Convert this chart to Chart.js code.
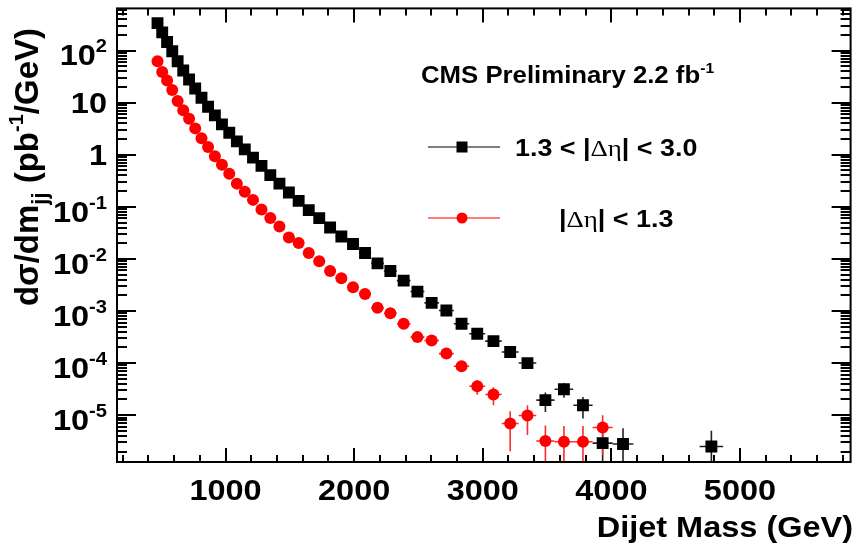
<!DOCTYPE html>
<html><head><meta charset="utf-8">
<script src="https://cdn.jsdelivr.net/npm/chart.js@4.4.0/dist/chart.umd.min.js"></script>
<style>html,body{margin:0;padding:0;background:#fff;}#wrap{width:859px;height:549px;}</style>
</head><body><div id="wrap"><canvas id="c" width="859" height="549"></canvas></div>
<script>
// ---------------- data ----------------
const massBlack = [471,507.5,545.5,585.5,627.5,671,716.5,764,813,864,917,972,1029,1088,1149.5,1213.5,1279.5,1348,1419,1492.5,1568.5,1647,1728.5,1813,1900.5,1991,2084.5,2181.5,2281.5,2385,2492,2602.5,2717,2835,2957,3083,3213,3347.5,3487,3631,3779,3932,4090.5,4777.5];
const halfWidthBlack = [18,18.5,19.5,20.5,21.5,22,23.5,24,25,26,27,28,29,30,31.5,32.5,33.5,35,36,37.5,38.5,40,41.5,43,44.5,46,47.5,49.5,50.5,53,54,56.5,58,60,62,64,66,68.5,71,73,75,78,80.5,91.5];
const valBlack = [337,224,146,97,62.4,41.4,27.9,18.7,12.4,8.33,5.70,3.83,2.65,1.81,1.27,0.879,0.610,0.407,0.279,0.188,0.130,0.0865,0.0608,0.0402,0.0270,0.0193,0.0130,0.00822,0.00587,0.00383,0.00236,0.00143,0.00102,0.000568,0.000366,0.000264,0.000163,0.000100,1.94e-5,3.14e-5,1.55e-5,2.9e-6,2.8e-6,2.5e-6];
const errBlack = [0,0,0,0,0,0,0,0,0,0,0,0,0,0,0,0,0,0,0,0,0,0,0,0,0,0,0,0,0,0,0,0,6.4e-5,4.7e-5,3.7e-5,3.1e-5,2.4e-5,1.8e-5,7.9e-6,9.9e-6,6.9e-6,2.9e-6,2.8e-6,2.5e-6];

const massRed = [471,507.5,545.5,585.5,627.5,671,716.5,764,813,864,917,972,1029,1088,1149.5,1213.5,1279.5,1348,1419,1492.5,1568.5,1647,1728.5,1813,1900.5,1991,2084.5,2181.5,2281.5,2385,2492,2602.5,2717,2835,2957,3083,3213,3347.5,3487,3631,3779,3932];
const halfWidthRed = [18,18.5,19.5,20.5,21.5,22,23.5,24,25,26,27,28,29,30,31.5,32.5,33.5,35,36,37.5,38.5,40,41.5,43,44.5,46,47.5,49.5,50.5,53,54,56.5,58,60,62,64,66,68.5,71,73,75,78];
const valRed = [62.4,38.9,26.6,17.6,10.8,7.19,4.91,3.21,2.07,1.41,0.935,0.646,0.434,0.279,0.194,0.136,0.0889,0.0608,0.0420,0.0259,0.0202,0.0130,0.00898,0.00588,0.00425,0.00286,0.00213,0.00115,0.000907,0.000569,0.000315,0.000272,0.000152,8.67e-5,3.59e-5,2.49e-5,6.93e-6,9.86e-6,3.18e-6,3.08e-6,3.08e-6,5.81e-6];
const errRed = [0,0,0,0,0,0,0,0,0,0,0,0,0,0,0,0,0,0,0,0,0,0,0,0,0,0,0,0,0,0,3.6e-5,3.4e-5,2.5e-5,1.8e-5,1.13e-5,9.4e-6,4.9e-6,5.7e-6,3.18e-6,3.08e-6,3.08e-6,4.1e-6];

const seriesLabels = ["1.3 < |\u0394\u03b7| < 3.0", "|\u0394\u03b7| < 1.3"];
const xRange = [156, 5860];
const yRange = [1.26e-6, 646];
const xMajorTicks = [1000,2000,3000,4000,5000];
const xTickLabels = ["1000","2000","3000","4000","5000"];
const xMinorTicks = [200,400,600,800,1200,1400,1600,1800,2200,2400,2600,2800,3200,3400,3600,3800,4200,4400,4600,4800,5200,5400,5600,5800];
const yMajorTicks = [1e2,1e1,1,1e-1,1e-2,1e-3,1e-4,1e-5];
const yTickBase = ["10","10","1","10","10","10","10","10"];
const yTickExp  = ["2","","","-1","-2","-3","-4","-5"];
const yDecadesForMinor = [1e-6,1e-5,1e-4,1e-3,1e-2,1e-1,1,10,100];
const yMinorMult = [2,3,4,5,6,7,8,9];
const xTitle = "Dijet Mass (GeV)";
const headerText = "CMS Preliminary 2.2 fb";

// ---------------- helpers ----------------
const SANS = '"Liberation Sans", Arial, Helvetica, sans-serif';
const SERIF = '"Liberation Serif", "DejaVu Serif", serif';
const SX = 1.12; // horizontal text stretch
function bold(px){ return 'bold ' + px + 'px ' + SANS; }
function richWidth(ctx, parts){ let w=0; for(const p of parts){ ctx.font=p.font; w+=ctx.measureText(p.t).width; } return w; }
function drawRich(ctx, parts, x, y, align, sx){
  ctx.save(); ctx.translate(x,y); ctx.scale(sx,1);
  const w = richWidth(ctx, parts);
  let cx = align==='right' ? -w : (align==='center' ? -w/2 : 0);
  for(const p of parts){ ctx.font=p.font; ctx.fillText(p.t, cx, p.dy||0); cx += ctx.measureText(p.t).width; }
  ctx.restore();
}

const rootPlugin = {
  id: 'rootStyle',
  beforeDatasetsDraw(chart){
    const ctx = chart.ctx, xs = chart.scales.x, ys = chart.scales.y, a = chart.chartArea;
    ctx.save();
    ctx.beginPath(); ctx.rect(a.left, a.top, a.right-a.left, a.bottom-a.top); ctx.clip();
    const sets = [
      {m: massBlack, v: valBlack, e: errBlack, h: halfWidthBlack, c: '#222'},
      {m: massRed, v: valRed, e: errRed, h: halfWidthRed, c: '#ff2a2a'}
    ];
    for(const s of sets){
      ctx.strokeStyle = s.c; ctx.lineWidth = 1.6;
      for(let i=0;i<s.m.length;i++){
        const px = xs.getPixelForValue(s.m[i]), py = ys.getPixelForValue(s.v[i]);
        ctx.beginPath();
        ctx.moveTo(xs.getPixelForValue(s.m[i]-s.h[i]), py);
        ctx.lineTo(xs.getPixelForValue(s.m[i]+s.h[i]), py);
        if(s.e[i] > 0){
          const lo = s.v[i]-s.e[i];
          const yLo = lo > 0 ? ys.getPixelForValue(lo) : a.bottom + 5;
          const yHi = ys.getPixelForValue(s.v[i]+s.e[i]);
          ctx.moveTo(px, yLo); ctx.lineTo(px, yHi);
        }
        ctx.stroke();
      }
    }
    ctx.restore();
  },
  afterDraw(chart){
    const ctx = chart.ctx, xs = chart.scales.x, ys = chart.scales.y, a = chart.chartArea;
    ctx.save();
    ctx.strokeStyle = '#000'; ctx.fillStyle = '#000';
    ctx.lineWidth = 2;
    ctx.strokeRect(a.left, a.top, a.right-a.left, a.bottom-a.top);
    // x ticks
    ctx.beginPath();
    for(const t of xMajorTicks){ const p = Math.round(xs.getPixelForValue(t));
      ctx.moveTo(p, a.bottom); ctx.lineTo(p, a.bottom-14); ctx.moveTo(p, a.top); ctx.lineTo(p, a.top+14); }
    for(const t of xMinorTicks){ const p = Math.round(xs.getPixelForValue(t));
      ctx.moveTo(p, a.bottom); ctx.lineTo(p, a.bottom-7); ctx.moveTo(p, a.top); ctx.lineTo(p, a.top+7); }
    // y ticks
    for(const t of yMajorTicks){ const p = Math.round(ys.getPixelForValue(t));
      ctx.moveTo(a.left, p); ctx.lineTo(a.left+19, p); ctx.moveTo(a.right, p); ctx.lineTo(a.right-19, p); }
    for(const d of yDecadesForMinor){ for(const m of yMinorMult){ const v = d*m;
      if(v < yRange[0] || v > yRange[1]) continue;
      const p = Math.round(ys.getPixelForValue(v));
      ctx.moveTo(a.left, p); ctx.lineTo(a.left+10, p); ctx.moveTo(a.right, p); ctx.lineTo(a.right-10, p); } }
    ctx.stroke();

    ctx.textBaseline = 'alphabetic';
    // x labels
    const LF = 29;
    for(let i=0;i<xMajorTicks.length;i++){
      const p = xs.getPixelForValue(xMajorTicks[i]);
      drawRich(ctx, [{t: xTickLabels[i], font: bold(LF)}], p, 500, 'center', SX);
    }
    // y labels
    for(let i=0;i<yMajorTicks.length;i++){
      const p = ys.getPixelForValue(yMajorTicks[i]);
      const parts = [{t: yTickBase[i], font: bold(LF)}];
      let base = p + 0.358*LF;
      if(yTickExp[i]){ parts.push({t: yTickExp[i], font: bold(Math.round(LF*0.62)), dy: -0.45*LF}); base += 0.15*LF; }
      drawRich(ctx, parts, 107, base, 'right', SX);
    }
    // x title
    drawRich(ctx, [{t: xTitle, font: bold(29)}], 853, 537, 'right', SX);
    // y title (rotated)
    ctx.save();
    ctx.translate(38, 28); ctx.rotate(-Math.PI/2);
    const TF = 33;
    const yParts = [
      {t:'d\u03c3/dm', font: bold(TF)},
      {t:'jj', font: bold(Math.round(TF*0.68)), dy: 0.28*TF},
      {t:' (pb', font: bold(TF)},
      {t:'-1', font: bold(Math.round(TF*0.62)), dy: -0.45*TF},
      {t:'/GeV)', font: bold(TF)}
    ];
    const yw = richWidth(ctx, yParts);
    let cx = -yw;
    for(const p of yParts){ ctx.font = p.font; ctx.fillText(p.t, cx, p.dy||0); cx += ctx.measureText(p.t).width; }
    ctx.restore();

    // header text
    const HF = 23;
    drawRich(ctx, [{t: headerText, font: bold(HF)}, {t:'-1', font: bold(Math.round(HF*0.62)), dy: -0.45*HF}], 421, 83, 'left', SX);

    // legend
    const legY = [147, 218];
    ctx.lineWidth = 1.2;
    ctx.strokeStyle = '#000'; ctx.beginPath(); ctx.moveTo(428, legY[0]); ctx.lineTo(500, legY[0]); ctx.stroke();
    ctx.fillStyle = '#000'; ctx.fillRect(462-5.5, legY[0]-5.5, 11, 11);
    ctx.strokeStyle = '#ff0000'; ctx.beginPath(); ctx.moveTo(428, legY[1]); ctx.lineTo(500, legY[1]); ctx.stroke();
    ctx.fillStyle = '#ff0000'; ctx.beginPath(); ctx.arc(462, legY[1], 5.5, 0, Math.PI*2); ctx.fill();
    ctx.fillStyle = '#000';
    const EF = 24;
    function legendParts(label){
      const i1 = label.indexOf('\u0394');
      return [
        {t: label.slice(0, i1), font: bold(EF)},
        {t: '\u0394\u03b7', font: EF + 'px ' + SERIF},
        {t: label.slice(i1+2), font: bold(EF)}
      ];
    }
    drawRich(ctx, legendParts(seriesLabels[0]), 515, legY[0]+9, 'left', SX);
    drawRich(ctx, legendParts(seriesLabels[1]), 559, legY[1]+9, 'left', SX);
    ctx.restore();
  }
};

new Chart(document.getElementById('c').getContext('2d'), {
  type: 'scatter',
  data: { datasets: [
    { label: seriesLabels[0], data: massBlack.map((m,i)=>({x:m, y:valBlack[i]})),
      pointStyle: 'rect', pointRadius: 8.4, pointHoverRadius: 8.4, backgroundColor: '#000', borderColor: '#000', borderWidth: 0 },
    { label: seriesLabels[1], data: massRed.map((m,i)=>({x:m, y:valRed[i]})),
      pointStyle: 'circle', pointRadius: 6, pointHoverRadius: 6, backgroundColor: '#ff0000', borderColor: '#ff0000', borderWidth: 0 }
  ]},
  options: {
    responsive: false, animation: false, devicePixelRatio: 1, events: [],
    layout: { padding: { left: 117, right: 4, top: 7, bottom: 87 } },
    plugins: { legend: { display: false }, tooltip: { enabled: false } },
    scales: {
      x: { type: 'linear', min: xRange[0], max: xRange[1], display: false },
      y: { type: 'logarithmic', min: yRange[0], max: yRange[1], display: false }
    }
  },
  plugins: [rootPlugin]
});
</script>
</body></html>
